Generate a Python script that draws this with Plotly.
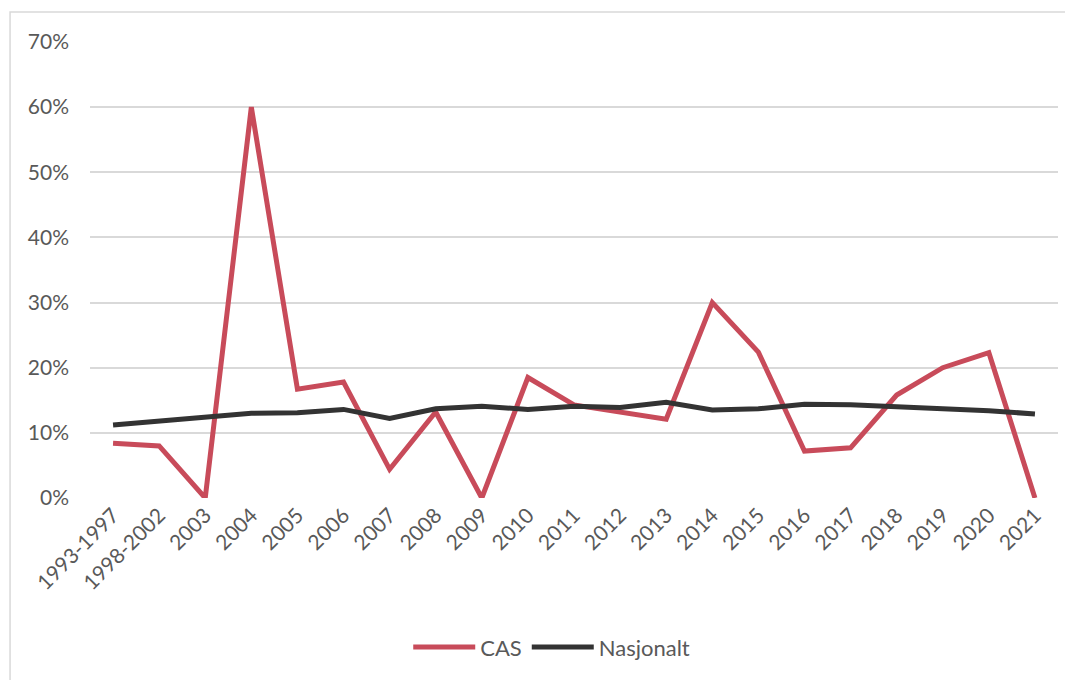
import plotly.graph_objects as go

# Categories (x axis)
periods = ['1993-1997', '1998-2002', '2003', '2004', '2005', '2006', '2007', '2008',
           '2009', '2010', '2011', '2012', '2013', '2014', '2015', '2016', '2017',
           '2018', '2019', '2020', '2021']

# Share in percent
cas = [8.4, 8.0, 0.0, 60.0, 16.7, 17.8, 4.4, 13.2, 0.0, 18.5, 14.3, 13.2, 12.1,
       30.0, 22.4, 7.2, 7.7, 15.8, 20.0, 22.3, 0.0]
nasjonalt = [11.2, 11.8, 12.5, 13.0, 13.1, 13.6, 12.2, 13.7, 14.1, 13.6, 14.1, 13.9,
             14.7, 13.5, 13.7, 14.4, 14.3, 14.0, 13.8, 13.4, 12.9]

y_ticks = [0, 10, 20, 30, 40, 50, 60, 70]
y_tick_labels = ['0%', '10%', '20%', '30%', '40%', '50%', '60%', '70%']

fig = go.Figure()
fig.add_trace(go.Scatter(x=periods, y=cas, name='CAS', mode='lines',
                         line=dict(color='#C84B5A', width=5)))
fig.add_trace(go.Scatter(x=periods, y=nasjonalt, name='Nasjonalt', mode='lines',
                         line=dict(color='#333333', width=5)))

# page body has an 8px margin, so the figure is sized a bit smaller
fig.update_layout(
    width=1065, height=672,
    margin=dict(l=82, r=15, t=34, b=182),
    plot_bgcolor='white', paper_bgcolor='white',
    font=dict(family='Lato, sans-serif', size=21, color='#595959'),
    showlegend=True,
    legend=dict(orientation='h', x=0.477, xanchor='center', y=-0.327, yanchor='middle',
                font=dict(size=22, color='#595959'), itemwidth=62),
    xaxis=dict(type='category', tickangle=-45, showgrid=False, showline=False,
               ticks='', zeroline=False, range=[-0.5, len(periods) - 0.5]),
    yaxis=dict(range=[0, 70], tickvals=y_ticks, ticktext=y_tick_labels, showgrid=True,
               gridcolor='#d9d9d9', gridwidth=2, zeroline=False, showline=False,
               ticks='', ticklabelstandoff=20),
)

# Light chart border like the spreadsheet frame
fig.add_shape(type='rect', xref='paper', yref='paper',
              x0=-0.0826, x1=1.2, y0=-0.6, y1=1.0658,
              line=dict(color='#d9d9d9', width=1.5), layer='below')

fig.write_html('out.html')
